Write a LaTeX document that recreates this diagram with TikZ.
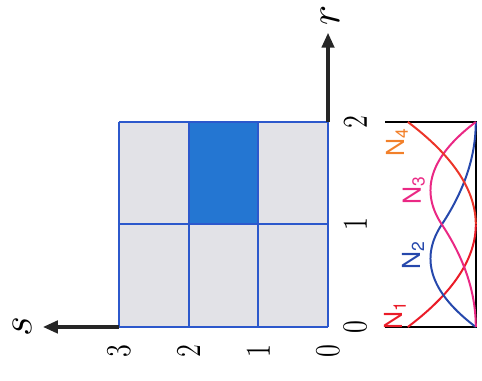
\documentclass[tikz,border=0pt]{standalone}
\usepackage{fontspec}
\newfontfamily\heros{TeX Gyre Heros}
\usetikzlibrary{arrows.meta}
\definecolor{cellgray}{RGB}{226,226,231}
\definecolor{cellblue}{RGB}{36,118,210}
\definecolor{gridblue}{RGB}{44,88,204}
\definecolor{nred}{RGB}{234,28,40}
\definecolor{nblue}{RGB}{38,72,172}
\definecolor{npink}{RGB}{234,40,132}
\definecolor{norange}{RGB}{242,128,42}
\tikzset{
  axisline/.style = {-{Triangle[length=6pt,width=5pt]}, line width=1.3pt, black!85},
  gridline/.style = {gridblue, line width=0.8pt},
  frameline/.style = {black, line width=0.8pt},
  ncurve/.style   = {line width=0.8pt, samples=40, smooth},
  ticklbl/.style  = {font=\fontsize{14}{16}\selectfont, inner sep=0pt, xscale=0.75},
  axislbl/.style  = {font=\fontsize{16}{18}\selectfont\itshape, inner sep=0pt},
  shapelbl/.style = {font=\heros\fontsize{10}{12}\selectfont, inner sep=0pt}
}
\newcommand{\nbase}{-2.12}
\newcommand{\nscl}{0.975}

\begin{document}
\begin{tikzpicture}[x=1.447cm, y=0.984cm, rotate=90, transform shape]
  \useasboundingbox (-0.527,-2.209) rectangle (3.19,4.706);
  % Cells
  \fill[cellgray] (0,0) rectangle (2,3);
  \fill[cellblue] (1,1) rectangle (2,2);
  \foreach \i in {0,1,2}
    \draw[gridline] (\i,0) -- (\i,3);
  \foreach \j in {0,...,3}
    \draw[gridline] (0,\j) -- (2,\j);
  % Axes
  \coordinate (O) at (0,0);
  \coordinate (send) at (0,3);
  \coordinate (stip) at (0,4.09);
  \coordinate (rend) at (2,0);
  \coordinate (rtip) at (2.87,0);
  \draw[axisline] (send) -- (stip);
  \draw[axisline] (rend) -- (rtip);
  \node[axislbl] (slbl) at (0,4.39) {$s$};
  \node[axislbl] (rlbl) at (3.04,-0.03) {$r$};
  % Tick labels
  \foreach \k in {0,...,3}
    \node[ticklbl] (s\k) at (-0.24,\k) {\k};
  \foreach \k in {0,1,2}
    \node[ticklbl] (r\k) at (\k,-0.39) {\k};
  % Shape functions
  \draw[frameline] (0,-0.818) -- (0,\nbase) -- (2,\nbase) -- (2,-0.818);
  \draw[ncurve, nred]    plot[domain=0:1] (\x, {\nbase+\nscl*(1-\x)*(1-\x)});
  \draw[ncurve, nblue]   plot[domain=0:1] (\x, {\nbase+\nscl*(2*\x-1.5*\x*\x)})
                         -- plot[domain=1:2] (\x, {\nbase+\nscl*0.5*(2-\x)*(2-\x)});
  \draw[ncurve, npink]   plot[domain=0:1] (\x, {\nbase+\nscl*0.5*\x*\x})
                         -- plot[domain=1:2] (\x, {\nbase+\nscl*(2*(2-\x)-1.5*(2-\x)*(2-\x))});
  \draw[ncurve, nred!75!norange] plot[domain=1:2] (\x, {\nbase+\nscl*(\x-1)*(\x-1)});
  \node[shapelbl, nred]    (n1) at (0.117,-0.96) {N\textsubscript{1}};
  \node[shapelbl, nblue]   (n2) at (0.70,-1.22)  {N\textsubscript{2}};
  \node[shapelbl, npink]   (n3) at (1.34,-1.23)  {N\textsubscript{3}};
  \node[shapelbl, norange] (n4) at (1.80,-0.99)  {N\textsubscript{4}};
\end{tikzpicture}
\end{document}
